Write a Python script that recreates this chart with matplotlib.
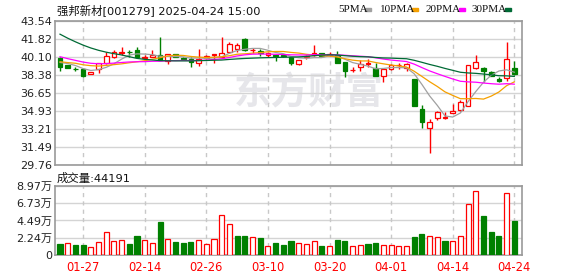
import numpy as np
import pandas as pd
import matplotlib
matplotlib.use('Agg')
import matplotlib.pyplot as plt

plt.rcParams['font.family'] = ['DejaVu Sans', 'Noto Sans CJK SC']

# closes of the 29 sessions before the shown window (only used for the MAs)
prev_close = [50.6, 49.3, 47.9, 46.8, 46.2, 45.6, 44.9, 44.3, 45.6, 45.0,
              42.8, 42.2, 41.6, 41.0, 40.4, 40.0, 39.6, 39.4, 39.6, 39.7,
              39.9, 39.6, 39.8, 39.5, 39.9, 39.6, 39.9, 39.8, 39.56]

opens = [40.00, 39.36, 39.00, 39.00, 38.50, 38.95, 39.58, 40.10, 40.50, 40.65,
         40.79, 40.05, 40.15, 40.32, 39.72, 40.41, 40.02, 39.93, 39.52, 40.06,
         40.35, 40.15, 40.63, 40.86, 41.85, 40.75, 40.70, 40.29, 40.28, 40.30,
         40.15, 39.42, 40.10, 40.29, 40.51, 40.30, 40.32, 39.62, 38.86, 39.13,
         39.48, 39.04, 38.33, 38.97, 39.33, 39.04, 38.02, 35.12, 33.30, 34.26,
         34.32, 34.80, 35.02, 35.46, 39.04, 39.10, 38.66, 38.02, 38.09, 39.04]
highs = [40.15, 39.40, 39.20, 39.07, 38.70, 39.55, 40.63, 40.79, 41.11, 40.79,
         41.11, 40.32, 40.79, 42.07, 40.45, 40.45, 40.15, 40.15, 40.86, 40.35,
         40.44, 42.07, 41.59, 41.43, 41.97, 40.95, 40.86, 40.65, 40.38, 40.40,
         40.20, 39.88, 40.30, 41.27, 40.55, 40.57, 40.70, 39.65, 39.20, 39.84,
         39.90, 39.52, 39.00, 39.45, 39.58, 39.52, 38.02, 35.53, 34.19, 35.00,
         34.89, 35.63, 36.01, 39.40, 40.34, 39.20, 38.80, 38.20, 41.56, 39.74]
lows = [38.81, 39.05, 38.78, 38.18, 38.45, 38.62, 39.50, 40.05, 40.32, 40.15,
        40.05, 39.84, 40.10, 39.80, 39.42, 40.10, 39.85, 39.20, 39.29, 39.90,
        39.58, 40.00, 40.55, 40.63, 40.70, 40.48, 40.25, 40.15, 39.77, 40.10,
        39.33, 39.35, 39.98, 40.25, 40.20, 40.20, 39.55, 38.24, 38.66, 38.82,
        39.20, 38.30, 37.76, 38.88, 38.95, 38.81, 35.48, 33.30, 30.97, 34.10,
        34.19, 34.75, 34.95, 35.40, 38.95, 37.70, 38.30, 37.70, 37.86, 38.40]
closes = [39.14, 39.10, 38.95, 38.33, 38.66, 39.52, 40.22, 40.63, 40.57, 40.60,
          40.10, 40.12, 40.32, 39.84, 40.41, 40.15, 39.98, 39.67, 39.93, 40.22,
          40.40, 40.48, 41.37, 41.27, 40.79, 40.82, 40.48, 40.48, 40.22, 40.20,
          39.52, 39.84, 40.22, 40.51, 40.25, 40.41, 39.58, 38.81, 38.90, 39.42,
          39.52, 38.33, 38.97, 39.36, 39.37, 39.42, 35.48, 33.87, 33.87, 34.83,
          34.36, 34.96, 35.82, 39.33, 39.62, 38.81, 38.33, 37.83, 39.90, 38.47]
# volume in 万 (10k)
volumes = [1.43, 1.56, 1.30, 1.30, 1.00, 1.69, 2.95, 1.78, 1.91, 1.43,
           2.47, 1.91, 1.52, 4.29, 2.12, 1.69, 1.56, 1.69, 1.91, 1.39,
           2.12, 5.16, 4.03, 2.47, 2.47, 2.30, 2.21, 1.13, 1.56, 1.30,
           1.82, 1.56, 1.43, 1.78, 1.17, 1.17, 1.95, 1.82, 1.17, 1.30,
           1.43, 1.56, 1.30, 1.30, 1.17, 1.17, 2.34, 2.73, 2.43, 2.30,
           1.82, 1.78, 2.43, 6.63, 8.28, 5.07, 2.99, 2.47, 8.02, 4.4191]
vol_up = [0, 1, 0, 0, 1, 1, 1, 1, 1, 0, 0, 1, 1, 0, 1, 0, 0, 0, 1, 1,
          1, 1, 1, 0, 0, 1, 0, 1, 0, 0, 0, 1, 1, 1, 0, 1, 0, 0, 1, 1,
          0, 0, 1, 1, 1, 1, 0, 0, 1, 1, 0, 1, 1, 1, 1, 0, 0, 0, 1, 0]

date_pos = [3, 11, 19, 27, 35, 43, 51, 59]
date_labels = ['01-27', '02-14', '02-26', '03-10', '03-20', '04-01', '04-14', '04-24']
price_ticks = [29.76, 31.49, 33.21, 34.93, 36.65, 38.38, 40.10, 41.82, 43.54]
vol_ticks = [0, 2.24, 4.49, 6.73, 8.97]
vol_labels = ['0', '2.24万', '4.49万', '6.73万', '8.97万']

ma_periods = [5, 10, 20, 30]
ma_colors = ['#a0a0a0', '#f5a000', '#ff00ff', '#006a35']

RED = '#ff0000'
GREEN = '#008000'
W, H = 578, 276

n = len(closes)
x = np.arange(n)
o = np.array(opens)
c = np.array(closes)
allc = pd.Series(prev_close + closes)

fig = plt.figure(figsize=(W / 100, H / 100), dpi=100)
ax = fig.add_axes([55 / W, 1 - 165.3 / H, 467 / W, 144 / H])
axv = fig.add_axes([55 / W, 1 - 255 / H, 467 / W, 69 / H])

# watermark
ax.text((309 - 55) / 467, 0.5, '东方财富', transform=ax.transAxes,
        fontsize=27, fontweight='bold', color='#e6e6ea', ha='center', va='center',
        family=['Noto Sans CJK SC'], zorder=0.5)

# candles
up = c >= o
for i in x:
    col = RED if up[i] else GREEN
    ax.vlines(i, lows[i], highs[i], color=col, lw=1, zorder=3)
lo = np.minimum(o, c)
hi = np.maximum(o, c)
body = np.maximum(hi - lo, 0.02)
ax.bar(x, body, bottom=lo, width=0.62,
       color=np.where(up, 'white', GREEN), edgecolor=np.where(up, RED, GREEN),
       linewidth=0.9, zorder=4)

for p, col in zip(ma_periods, ma_colors):
    ma = allc.rolling(p).mean().values[len(prev_close):]
    ax.plot(x, ma, color=col, lw=0.9, zorder=5)

# volume
vu = np.array(vol_up) == 1
axv.bar(x, volumes, width=0.66, color=np.where(vu, 'white', GREEN),
        edgecolor=np.where(vu, RED, GREEN), linewidth=0.9, zorder=3)

for a in (ax, axv):
    a.set_xlim(-0.65, 60.0)
    for p in date_pos:
        a.axvline(p, color='#c8c8c8', ls=(0, (3, 3)), lw=1, zorder=1)
    a.grid(axis='y', color='#d4d4d4', lw=1, zorder=1)
    a.set_axisbelow(True)
    a.tick_params(length=0, labelsize=8, colors='#222222', pad=2)
    for s in a.spines.values():
        s.set_color('#999999')
        s.set_linewidth(1.2)

ax.set_ylim(price_ticks[0], price_ticks[-1])
ax.set_yticks(price_ticks, [f'{t:.2f}' for t in price_ticks])
ax.set_xticks([])

axv.set_ylim(0, vol_ticks[-1])
axv.set_yticks(vol_ticks, vol_labels)
axv.set_xticks(date_pos, date_labels)
axv.tick_params(axis='x', colors=RED, labelsize=8.3, pad=4)

fig.text(57 / W, 1 - 10 / H, '强邦新材[001279] 2025-04-24 15:00', fontsize=8.2,
         va='center', ha='left', color='#111111')
fig.text(57 / W, 1 - 178 / H, '成交量:44191', fontsize=8.2, va='center', ha='left',
         color='#111111')

# legend
leg_x = [338, 380, 426, 472]
rect_x = [365, 412, 459, 505]
for lx, rx, p, col in zip(leg_x, rect_x, ma_periods, ma_colors):
    fig.text(lx / W, 1 - 9.5 / H, f'{p}PMA', fontsize=8, family='Liberation Serif',
             va='center', ha='left', color='#111111')
    fig.patches.append(plt.Rectangle((rx / W, 1 - 11 / H), 6 / W, 3 / H,
                                     transform=fig.transFigure, color=col))

fig.savefig('out.png', dpi=100)
